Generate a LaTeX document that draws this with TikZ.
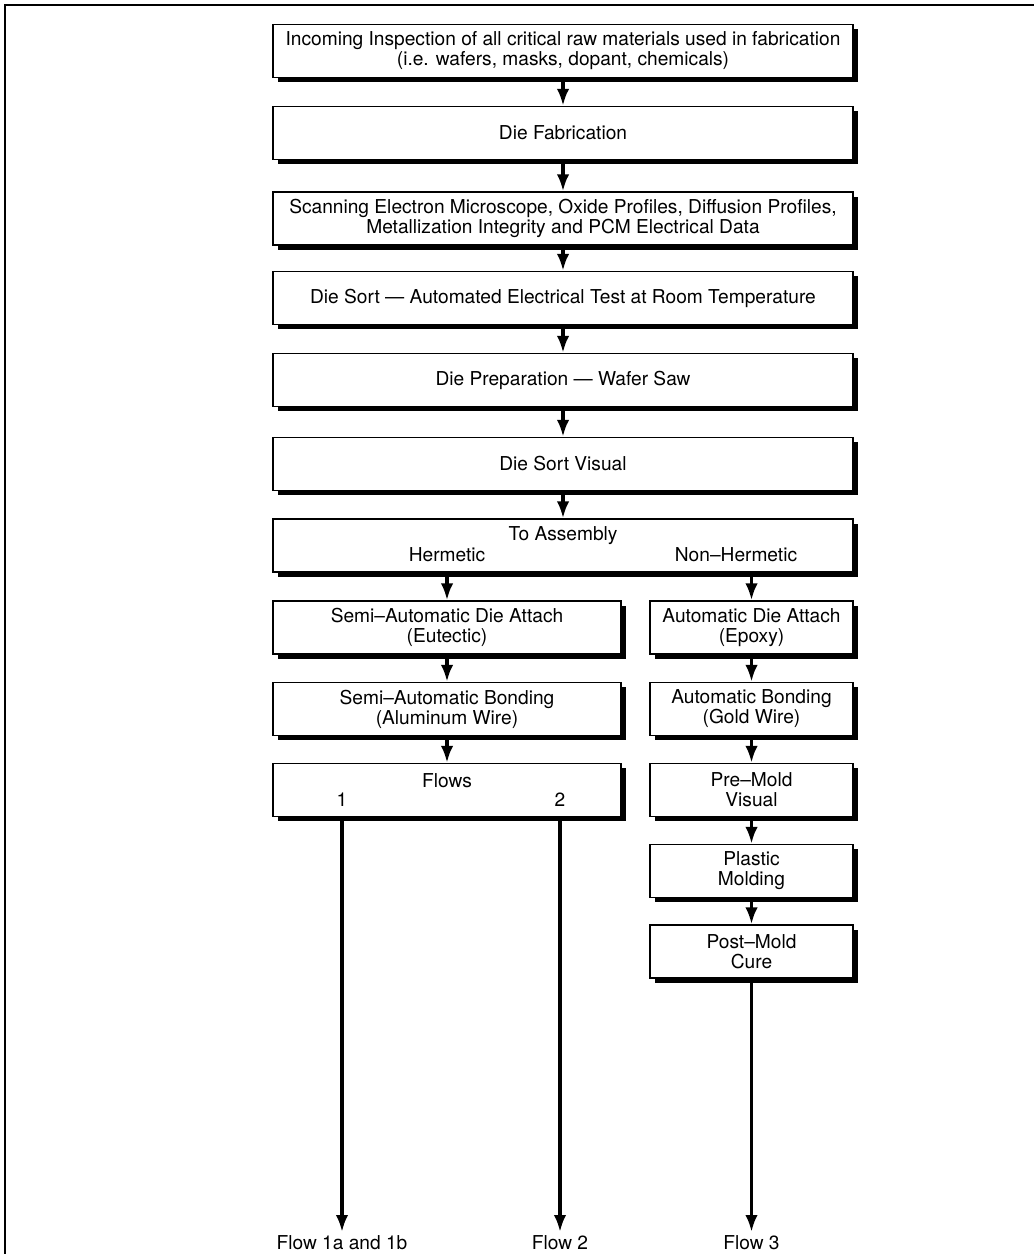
\documentclass[tikz,border=0pt]{standalone}
\usepackage{fontspec}
\setmainfont{TeX Gyre Heros}
\usetikzlibrary{arrows.meta,positioning,shadows}
\newcommand{\flowfont}{\fontsize{10.9}{11.4}\selectfont}

\begin{document}
\begin{tikzpicture}[
      box/.style={rectangle, draw=black, fill=white, line width=0.75pt, minimum height=1.06cm, inner sep=0pt, align=center, font=\flowfont, drop shadow={shadow xshift=0.09cm, shadow yshift=-0.09cm, fill=black, opacity=1}},
      wide/.style={box, minimum width=11.6cm},
      herm/.style={box, minimum width=6.96cm},
      nonherm/.style={box, minimum width=4.06cm},
      txt/.style={font=\flowfont, inner sep=2pt},
      pfeil/.style={-{Latex[length=0.34cm,width=0.25cm]}, line width=1.9pt}]

\useasboundingbox (0,0) rectangle (20.68,-25.08);
\draw[line width=1pt] (0.1,-25.08) -- (0.1,-0.1) -- (20.68,-0.1);

\node[wide] (insp) at (11.26,-1.02) {Incoming Inspection of all critical raw materials used in fabrication\\(i.e. wafers, masks, dopant, chemicals)};
\node[wide] (fab) at (11.26,-2.66) {Die Fabrication};
\node[wide] (sem) at (11.26,-4.37) {Scanning Electron Microscope, Oxide Profiles, Diffusion Profiles,\\Metallization Integrity and PCM Electrical Data};
\node[wide] (sort) at (11.26,-5.96) {Die Sort — Automated Electrical Test at Room Temperature};
\node[wide] (prep) at (11.26,-7.60) {Die Preparation — Wafer Saw};
\node[wide] (visual) at (11.26,-9.28) {Die Sort Visual};
\node[wide] (asm) at (11.26,-10.91) {};
\node[txt] (asmtxt) at (11.26,-10.72) {To Assembly};
\node[txt] (hlabel) at (8.94,-11.10) {Hermetic};
\node[txt] (nhlabel) at (14.72,-11.10) {Non–Hermetic};

\node[herm] (attach1) at (8.94,-12.55) {Semi–Automatic Die Attach\\(Eutectic)};
\node[nonherm] (attach2) at (15.03,-12.55) {Automatic Die Attach\\(Epoxy)};
\node[herm] (bond1) at (8.94,-14.18) {Semi–Automatic Bonding\\(Aluminum Wire)};
\node[nonherm] (bond2) at (15.03,-14.18) {Automatic Bonding\\(Gold Wire)};
\node[herm] (flows) at (8.94,-15.80) {};
\node[txt] (flowstxt) at (8.94,-15.62) {Flows};
\node[txt] (one) at (6.84,-16.0) {1};
\node[txt] (two) at (11.2,-16.0) {2};
\node[nonherm] (premold) at (15.03,-15.80) {Pre–Mold\\Visual};
\node[nonherm] (molding) at (15.03,-17.42) {Plastic\\Molding};
\node[nonherm] (cure) at (15.03,-19.03) {Post–Mold\\Cure};

\node[txt] (flowa) at (6.84,-24.86) {Flow 1a and 1b};
\node[txt] (flowb) at (11.2,-24.86) {Flow 2};
\node[txt] (flowc) at (15.03,-24.86) {Flow 3};

\draw[pfeil] (insp) -- (fab);
\draw[pfeil] (fab) -- (sem);
\draw[pfeil] (sem) -- (sort);
\draw[pfeil] (sort) -- (prep);
\draw[pfeil] (prep) -- (visual);
\draw[pfeil] (visual) -- (asm);
\draw[pfeil] (asm.south -| attach1) -- (attach1);
\draw[pfeil] (asm.south -| attach2) -- (attach2);
\draw[pfeil] (attach1) -- (bond1);
\draw[pfeil] (bond1) -- (flows);
\draw[pfeil] (attach2) -- (bond2);
\draw[pfeil] (bond2) -- (premold);
\draw[pfeil] (premold) -- (molding);
\draw[pfeil] (molding) -- (cure);
\draw[pfeil] (flows.south -| flowa) -- (flowa);
\draw[pfeil] (flows.south -| flowb) -- (flowb);
\draw[pfeil] (cure) -- (flowc);

\end{tikzpicture}
\end{document}
